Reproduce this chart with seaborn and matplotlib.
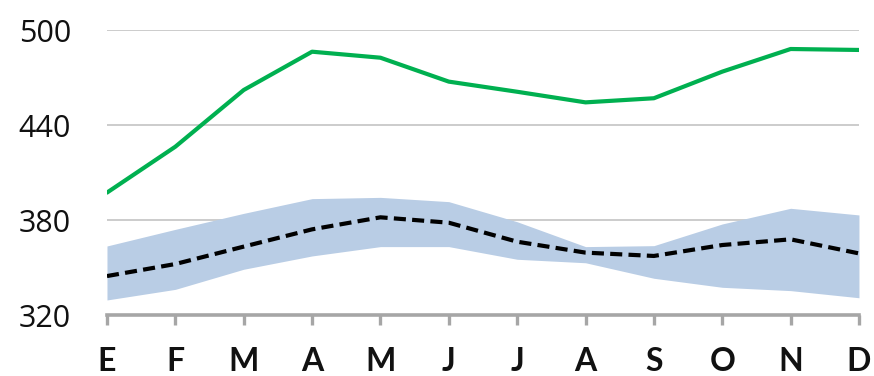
import pandas as pd
import matplotlib.pyplot as plt
import seaborn as sns

meses = ['E', 'F', 'M', 'A', 'M', 'J', 'J', 'A', 'S', 'O', 'N', 'D']
serie_verde = [397.3, 426.3, 462.1, 486.3, 482.5, 467.4, 461.0, 454.3, 456.9, 473.7, 488.0, 487.4]
media = [344.6, 352.2, 363.2, 374.1, 381.7, 378.3, 366.3, 359.4, 357.3, 364.2, 367.8, 358.9]
banda_sup = [363.6, 374.1, 384.2, 393.5, 394.3, 391.6, 378.9, 363.2, 363.8, 377.5, 387.4, 383.2]
banda_inf = [329.5, 336.2, 348.9, 357.3, 363.2, 363.2, 355.2, 353.0, 343.2, 337.5, 335.4, 330.9]
y_ticks = [320, 380, 440, 500]

dados = pd.DataFrame({
    'pos': range(len(meses)),
    'verde': serie_verde,
    'media': media,
    'sup': banda_sup,
    'inf': banda_inf,
})

sns.set_style('white')
plt.rcParams['font.family'] = ['Lato', 'DejaVu Sans']

figura = plt.figure(figsize=(8.74, 3.76), dpi=100)
eixo = figura.add_axes([0.1224, 0.1622, 0.8604, 0.758])

eixo.fill_between(dados['pos'], dados['inf'], dados['sup'], color='#b9cde5', linewidth=0, zorder=2)
sns.lineplot(data=dados, x='pos', y='media', ax=eixo, color='black', linewidth=3.0,
             linestyle=(0, (2.9, 1.5)), zorder=3)
sns.lineplot(data=dados, x='pos', y='verde', ax=eixo, color='#00b050', linewidth=3.0, zorder=3)

eixo.set_xlim(0, len(meses) - 1)
eixo.set_ylim(320, 500)
eixo.set_yticks(y_ticks)
eixo.set_yticklabels([str(v) for v in y_ticks], fontsize=22, color='#111111',
                     family=['Open Sans', 'DejaVu Sans'])
eixo.set_xticks(dados['pos'])
eixo.set_xticklabels(meses, fontsize=23, fontweight='bold', color='#111111')
eixo.yaxis.grid(True, color='#bfbfbf', linewidth=1.1, zorder=1)
eixo.set_axisbelow(True)
eixo.tick_params(axis='y', left=False, length=0, pad=26)
eixo.tick_params(axis='x', bottom=True, length=7, width=2.4, color='#a6a6a6', pad=16, direction='out')
for lado in ['top', 'right', 'left']:
    eixo.spines[lado].set_visible(False)
eixo.spines['bottom'].set_color('#a6a6a6')
eixo.spines['bottom'].set_linewidth(2.6)
eixo.spines['bottom'].set_zorder(4)
eixo.set_xlabel('')
eixo.set_ylabel('')

figura.savefig('out.png', dpi=100)
